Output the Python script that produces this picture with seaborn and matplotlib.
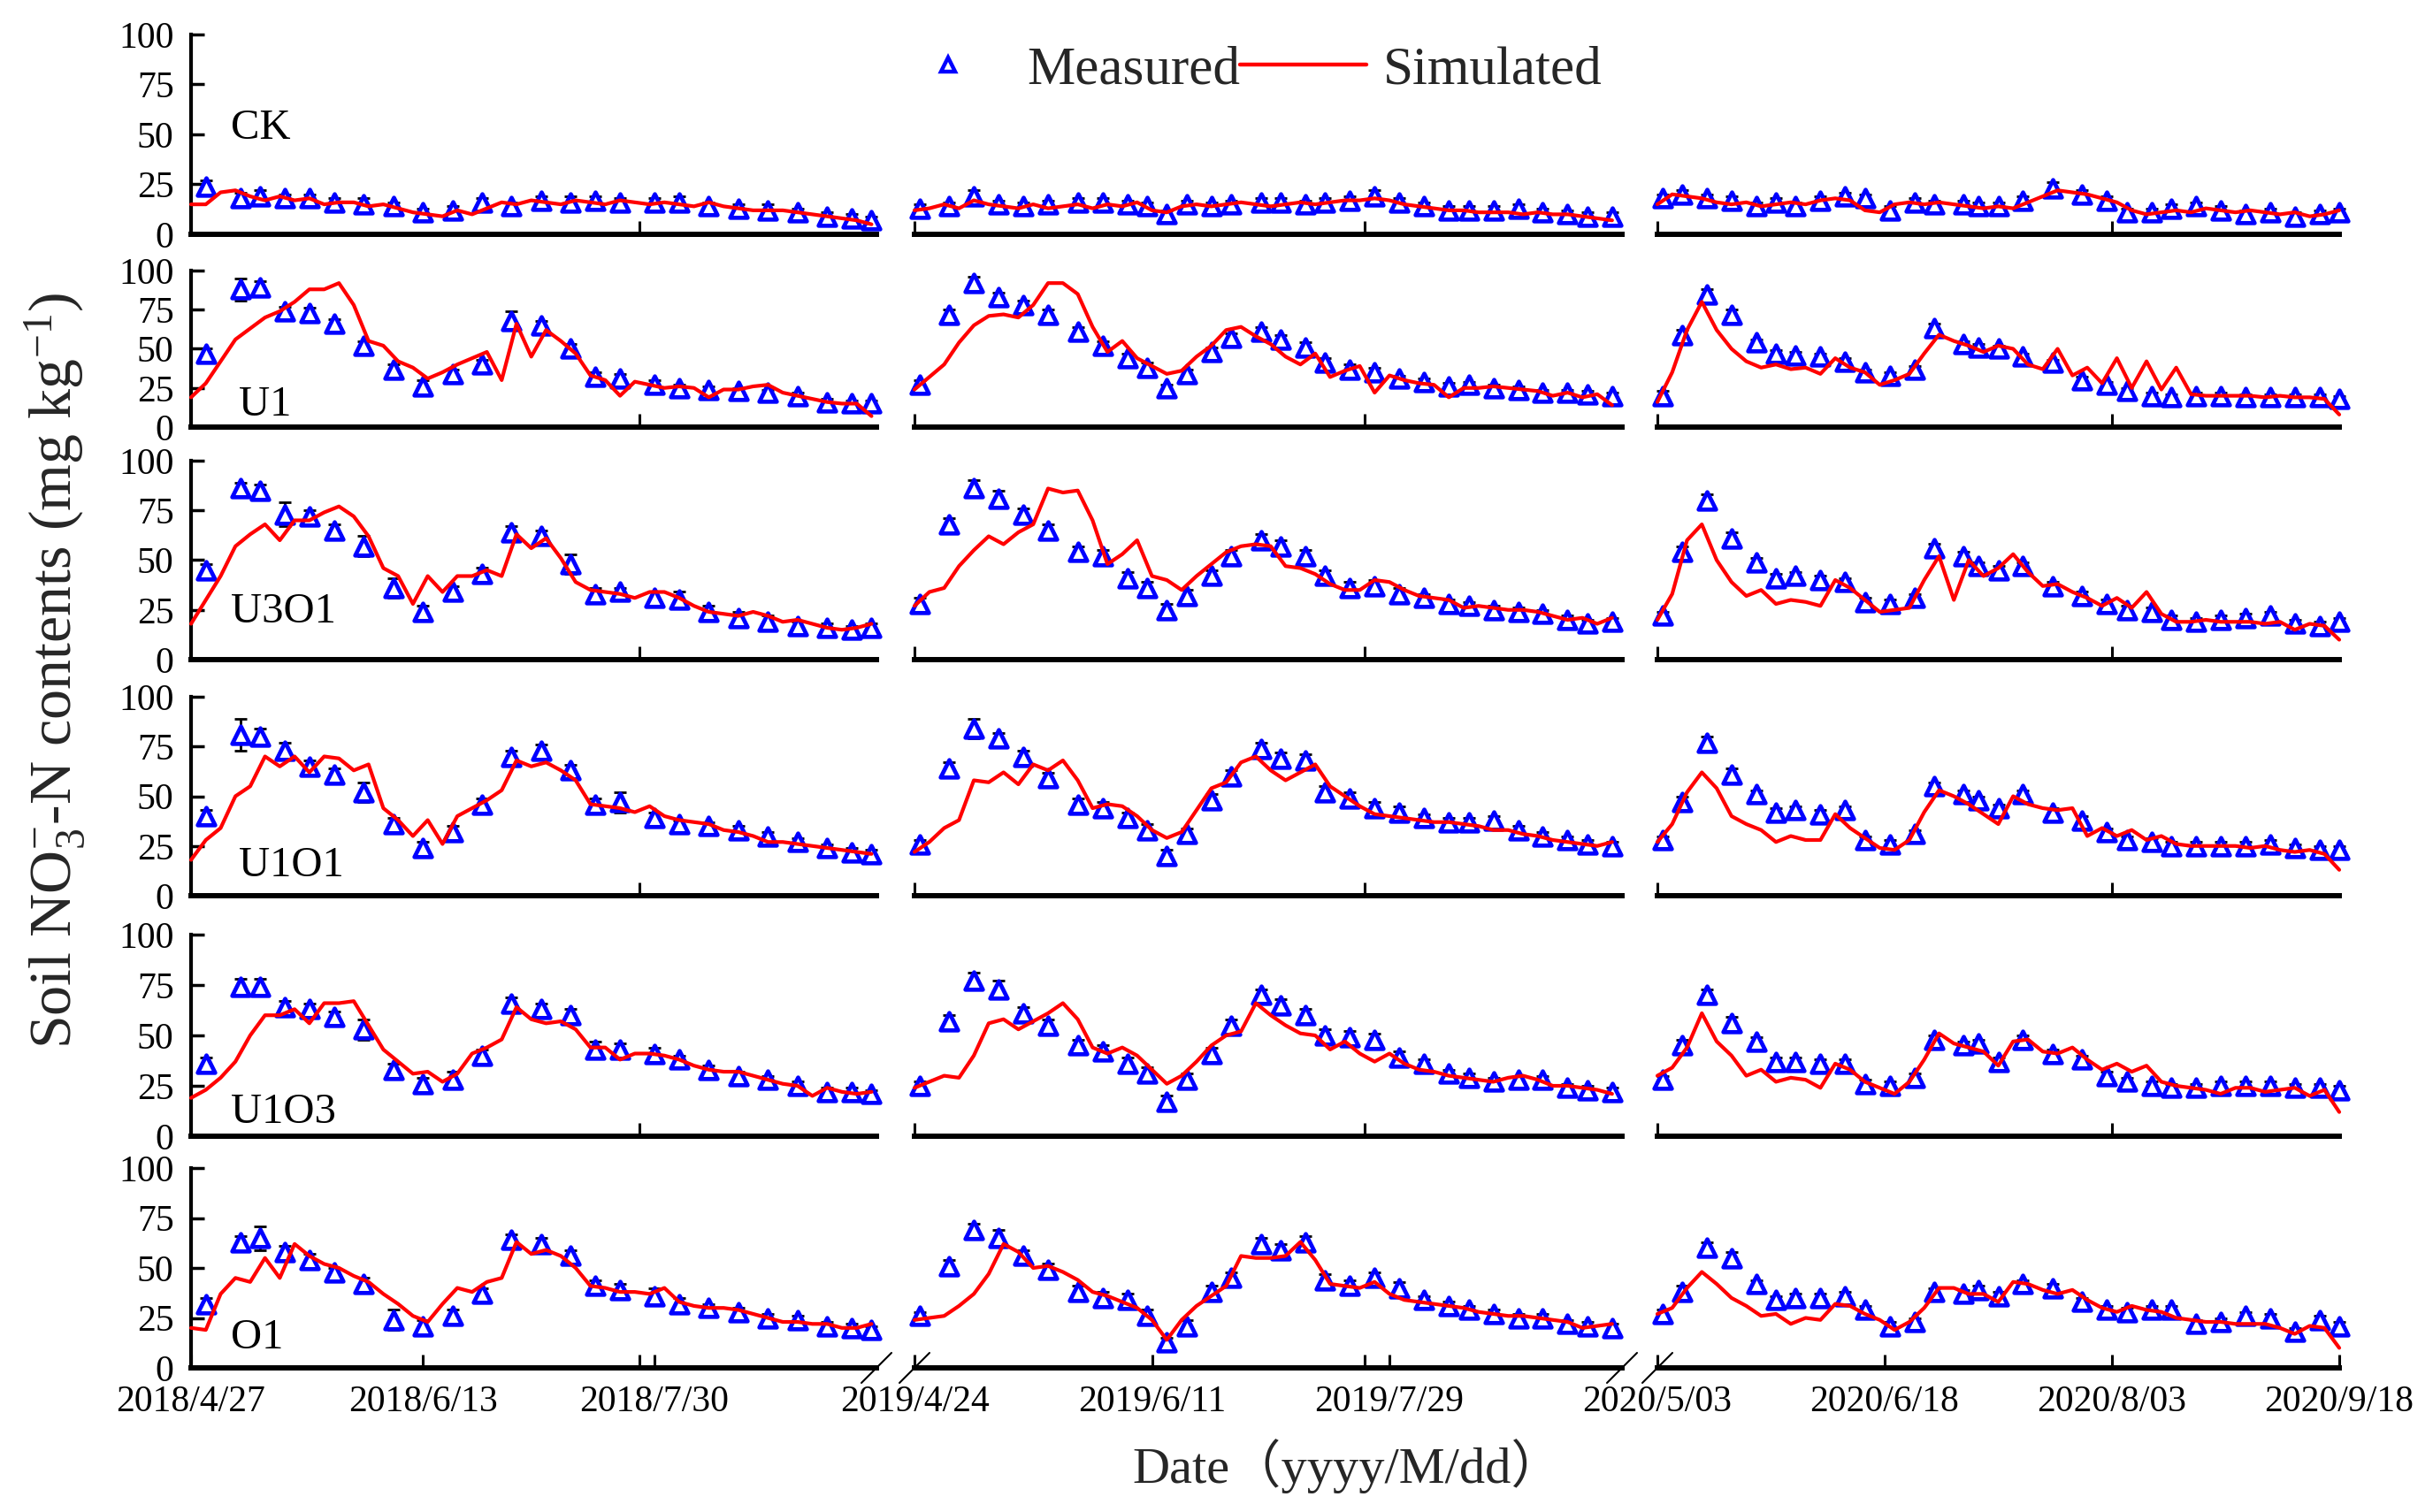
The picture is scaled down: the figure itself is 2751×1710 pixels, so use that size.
import numpy as np
import pandas as pd
import matplotlib
matplotlib.use("Agg")
import matplotlib.pyplot as plt
import matplotlib.dates as mdates
from matplotlib.lines import Line2D
import seaborn as sns

# ---------------- data ----------------
treatments = ["CK", "U1", "U3O1", "U1O1", "U1O3", "O1"]
season_starts = ["2018-04-27", "2019-04-24", "2020-05-03"]
season_ends = ["2018-09-13", "2019-09-14", "2020-09-18"]
sim_step_days = 3  # simulated series sampled every 3 days from season start

meas_days_2018 = [3, 10, 14, 19, 24, 29, 35, 41, 47, 53, 59, 65, 71, 77, 82, 87, 94, 99, 105, 111, 117, 123, 129, 134, 138]
meas_days_2019 = [1, 7, 12, 17, 22, 27, 33, 38, 43, 47, 51, 55, 60, 64, 70, 74, 79, 83, 88, 93, 98, 103, 108, 112, 117, 122, 127, 132, 136, 141]
meas_days_2020 = [1, 5, 10, 15, 20, 24, 28, 33, 38, 42, 47, 52, 56, 62, 65, 69, 74, 80, 86, 91, 95, 100, 104, 109, 114, 119, 124, 129, 134, 138]

# tick dates / labels (bottom row)
tick_dates_2018 = ["2018-04-27", "2018-06-13", "2018-07-30"]
tick_labels_2018 = ["2018/4/27", "2018/6/13", "2018/7/30"]
tick_dates_2019 = ["2019-04-24", "2019-06-11", "2019-07-29"]
tick_labels_2019 = ["2019/4/24", "2019/6/11", "2019/7/29"]
tick_dates_2020 = ["2020-05-03", "2020-06-18", "2020-08-03", "2020-09-18"]
tick_labels_2020 = ["2020/5/03", "2020/6/18", "2020/8/03", "2020/9/18"]
extra_ticks_bottom = [["2018-07-27"], ["2019-07-24"], []]
upper_ticks = [["2018-07-27"], ["2019-04-24", "2019-07-24"], ["2020-05-03", "2020-08-03"]]

# ----- CK -----
CK_2018_sim = [15, 15, 21, 22, 19, 17, 19, 17, 18, 15, 16, 16, 14, 15, 13, 11, 10, 9, 12, 10, 13, 16, 15, 17, 16, 15, 17, 16, 15, 17, 16, 15, 16, 15, 14, 16, 14, 13, 12, 12, 12, 11, 10, 9, 8, 7, 5]
CK_2019_sim = [12, 13, 15, 13, 17, 15, 14, 13, 15, 13, 14, 15, 13, 15, 14, 16, 12, 11, 14, 15, 14, 15, 16, 15, 14, 15, 16, 15, 16, 17, 17, 18, 17, 15, 14, 13, 12, 12, 11, 11, 11, 10, 11, 10, 10, 9, 8, 7]
CK_2020_sim = [15, 20, 19, 18, 16, 15, 16, 14, 15, 16, 15, 17, 18, 17, 12, 11, 15, 16, 15, 16, 15, 14, 13, 14, 13, 16, 19, 22, 21, 20, 18, 16, 12, 10, 11, 12, 11, 13, 12, 11, 12, 11, 10, 11, 9, 10, 12]
CK_2018_obs = [24, 18, 19, 18, 18, 16, 15, 14, 11, 12, 16, 14, 17, 16, 17, 16, 16, 16, 14, 13, 12, 11, 9, 8, 7]
CK_2019_obs = [13, 14, 19, 15, 14, 15, 16, 16, 15, 14, 10, 15, 14, 15, 16, 16, 15, 16, 17, 19, 16, 14, 12, 12, 12, 13, 11, 10, 9, 9]
CK_2020_obs = [18, 20, 18, 17, 14, 16, 14, 17, 19, 18, 12, 16, 15, 15, 14, 14, 17, 23, 20, 17, 11, 11, 13, 14, 12, 10, 11, 9, 10, 11]
CK_2018_err = [3, 3, 3, 2, 2, 2, 3, 2, 2, 2, 2, 2, 2, 3, 2, 2, 2, 3, 2, 2, 3, 2, 2, 2, 2]
CK_2019_err = [2, 2, 3, 2, 2, 2, 2, 2, 2, 2, 2, 2, 2, 2, 2, 2, 2, 2, 2, 3, 2, 2, 2, 2, 2, 2, 2, 2, 2, 2]
CK_2020_err = [2, 2, 2, 2, 2, 2, 2, 2, 2, 2, 2, 2, 2, 2, 2, 2, 2, 3, 2, 2, 2, 2, 2, 2, 2, 2, 2, 2, 2, 2]

# ----- U1 -----
U1_2018_sim = [19, 28, 42, 56, 63, 70, 74, 80, 88, 88, 92, 78, 55, 52, 42, 38, 31, 35, 40, 44, 48, 30, 66, 45, 62, 55, 47, 33, 30, 20, 29, 27, 25, 26, 25, 19, 24, 24, 26, 27, 22, 20, 18, 16, 15, 15, 7]
U1_2019_sim = [24, 32, 40, 54, 65, 71, 72, 70, 78, 92, 92, 85, 64, 48, 55, 44, 39, 34, 36, 45, 52, 62, 64, 58, 53, 45, 40, 47, 32, 36, 39, 22, 33, 30, 28, 27, 19, 25, 25, 26, 25, 24, 23, 20, 22, 19, 21, 14]
U1_2020_sim = [16, 35, 62, 80, 62, 50, 42, 38, 40, 37, 38, 34, 44, 38, 35, 27, 30, 34, 47, 59, 55, 52, 48, 52, 50, 40, 37, 50, 33, 38, 28, 44, 25, 42, 24, 38, 21, 20, 20, 20, 20, 19, 20, 19, 19, 18, 8]
U1_2018_obs = [47, 88, 89, 74, 73, 66, 52, 37, 26, 34, 40, 68, 65, 50, 32, 31, 27, 25, 24, 23, 22, 20, 16, 15, 15]
U1_2019_obs = [27, 72, 92, 83, 78, 72, 61, 52, 44, 38, 25, 34, 48, 57, 61, 56, 51, 41, 37, 35, 31, 29, 26, 27, 25, 24, 22, 22, 21, 20]
U1_2020_obs = [20, 59, 85, 72, 54, 47, 46, 45, 42, 35, 33, 37, 63, 53, 51, 50, 45, 41, 30, 27, 23, 20, 19, 20, 20, 19, 19, 19, 19, 18]
U1_2018_err = [3, 7, 4, 3, 3, 3, 3, 3, 4, 3, 3, 6, 3, 3, 3, 3, 3, 2, 2, 2, 2, 2, 2, 2, 2]
U1_2019_err = [3, 3, 4, 3, 3, 3, 3, 3, 3, 3, 2, 3, 3, 3, 3, 3, 3, 3, 3, 3, 2, 2, 2, 2, 2, 2, 2, 2, 2, 2]
U1_2020_err = [3, 3, 3, 3, 2, 2, 2, 2, 2, 2, 2, 2, 3, 2, 2, 2, 2, 2, 2, 2, 2, 2, 2, 2, 2, 2, 2, 2, 2, 2]

# ----- U3O1 -----
U3O1_2018_sim = [18, 30, 42, 57, 63, 68, 60, 70, 70, 74, 77, 72, 62, 46, 42, 28, 42, 34, 42, 42, 45, 42, 63, 56, 61, 51, 39, 35, 34, 33, 31, 34, 34, 31, 27, 24, 23, 22, 24, 22, 19, 20, 18, 16, 15, 16, 18]
U3O1_2019_sim = [27, 34, 36, 47, 55, 62, 58, 64, 68, 86, 84, 85, 70, 48, 53, 60, 42, 40, 35, 42, 48, 54, 57, 58, 57, 47, 46, 43, 38, 35, 35, 40, 39, 35, 32, 31, 30, 26, 27, 26, 25, 25, 24, 22, 20, 21, 18, 21]
U3O1_2020_sim = [20, 33, 60, 68, 50, 39, 32, 35, 28, 30, 29, 27, 40, 36, 30, 24, 25, 26, 40, 52, 30, 50, 42, 46, 53, 44, 37, 38, 34, 31, 27, 31, 26, 34, 23, 19, 19, 20, 19, 19, 19, 18, 19, 15, 18, 17, 10]
U3O1_2018_obs = [45, 86, 85, 73, 72, 65, 57, 36, 24, 34, 43, 64, 62, 48, 33, 34, 31, 30, 24, 21, 19, 17, 16, 15, 16]
U3O1_2019_obs = [28, 68, 86, 81, 73, 65, 54, 52, 41, 36, 25, 32, 42, 52, 60, 57, 52, 42, 36, 37, 33, 31, 28, 27, 25, 24, 23, 20, 18, 19]
U3O1_2020_obs = [22, 54, 80, 61, 49, 41, 42, 40, 39, 29, 28, 31, 56, 52, 47, 45, 47, 37, 32, 28, 25, 24, 20, 19, 20, 21, 22, 18, 17, 19]
U3O1_2018_err = [3, 3, 3, 6, 3, 3, 5, 5, 3, 3, 3, 3, 3, 5, 3, 2, 3, 4, 3, 3, 3, 2, 2, 2, 2]
U3O1_2019_err = [3, 3, 4, 4, 3, 3, 3, 3, 3, 3, 3, 3, 3, 3, 3, 3, 3, 3, 3, 3, 3, 2, 2, 2, 2, 2, 2, 2, 2, 2]
U3O1_2020_err = [2, 3, 3, 3, 2, 2, 2, 2, 2, 2, 2, 2, 2, 2, 2, 2, 2, 2, 2, 2, 2, 2, 2, 2, 2, 2, 2, 2, 2, 2]

# ----- U1O1 -----
U1O1_2018_sim = [18, 28, 34, 50, 55, 70, 65, 70, 62, 70, 69, 63, 66, 44, 38, 30, 38, 26, 40, 44, 48, 53, 68, 65, 67, 63, 58, 46, 45, 44, 42, 45, 40, 38, 37, 36, 33, 32, 30, 27, 27, 26, 25, 24, 23, 22, 21]
U1O1_2019_sim = [22, 27, 34, 38, 58, 57, 62, 56, 66, 63, 68, 58, 44, 46, 45, 40, 33, 29, 32, 43, 54, 57, 67, 70, 63, 58, 62, 66, 55, 50, 45, 41, 40, 39, 38, 37, 37, 36, 35, 33, 33, 31, 30, 28, 27, 26, 25, 27]
U1O1_2020_sim = [27, 36, 52, 62, 54, 40, 36, 33, 27, 30, 28, 28, 41, 34, 29, 24, 23, 28, 42, 53, 50, 46, 41, 36, 50, 46, 44, 43, 44, 30, 34, 30, 33, 28, 30, 26, 25, 25, 25, 25, 24, 25, 23, 22, 23, 21, 13]
U1O1_2018_obs = [40, 81, 80, 73, 65, 61, 52, 36, 24, 32, 46, 70, 73, 63, 46, 47, 39, 36, 35, 33, 30, 27, 24, 22, 21]
U1O1_2019_obs = [26, 64, 84, 79, 70, 59, 46, 44, 39, 33, 20, 31, 48, 60, 74, 69, 68, 52, 49, 44, 42, 39, 37, 37, 38, 33, 30, 28, 26, 25]
U1O1_2020_obs = [28, 47, 77, 61, 51, 42, 43, 41, 43, 28, 26, 31, 55, 51, 48, 44, 51, 42, 38, 32, 28, 27, 25, 25, 25, 25, 26, 24, 23, 23]
U1O1_2018_err = [3, 8, 4, 4, 3, 3, 5, 3, 3, 3, 3, 3, 3, 3, 3, 5, 3, 2, 2, 2, 2, 2, 2, 2, 2]
U1O1_2019_err = [2, 3, 5, 3, 3, 3, 3, 3, 3, 3, 3, 3, 3, 3, 3, 3, 3, 3, 3, 3, 3, 2, 2, 2, 2, 2, 2, 2, 2, 2]
U1O1_2020_err = [2, 3, 3, 3, 2, 2, 2, 2, 2, 2, 2, 2, 2, 2, 2, 2, 2, 2, 2, 2, 2, 2, 2, 2, 2, 2, 2, 2, 2, 2]

# ----- U1O3 -----
U1O3_2018_sim = [19, 23, 29, 37, 50, 60, 60, 63, 56, 66, 66, 67, 55, 43, 37, 31, 32, 27, 31, 41, 44, 48, 64, 58, 56, 57, 53, 44, 44, 38, 41, 41, 40, 38, 35, 33, 32, 32, 30, 28, 26, 25, 20, 24, 22, 21, 22]
U1O3_2019_sim = [24, 27, 30, 29, 40, 56, 58, 53, 57, 61, 66, 58, 44, 41, 44, 40, 33, 26, 30, 37, 45, 50, 52, 66, 60, 55, 51, 50, 43, 47, 41, 37, 41, 36, 33, 32, 30, 29, 28, 27, 29, 30, 28, 25, 25, 24, 23, 21]
U1O3_2020_sim = [30, 34, 44, 61, 47, 40, 30, 33, 27, 29, 28, 24, 36, 33, 27, 24, 21, 27, 38, 51, 46, 44, 42, 35, 47, 48, 42, 41, 44, 38, 33, 36, 32, 35, 27, 25, 24, 23, 21, 24, 24, 22, 23, 24, 20, 23, 12]
U1O3_2018_obs = [36, 74, 74, 64, 63, 59, 53, 33, 26, 28, 40, 66, 63, 60, 43, 43, 41, 38, 33, 30, 28, 25, 22, 22, 21]
U1O3_2019_obs = [25, 57, 77, 73, 61, 55, 45, 42, 36, 31, 17, 28, 41, 55, 70, 65, 60, 50, 49, 48, 39, 36, 31, 29, 27, 28, 28, 24, 23, 22]
U1O3_2020_obs = [28, 45, 70, 56, 47, 37, 37, 36, 36, 26, 25, 29, 48, 45, 46, 37, 48, 41, 38, 30, 27, 25, 24, 24, 25, 25, 25, 24, 24, 23]
U1O3_2018_err = [3, 4, 4, 3, 3, 3, 5, 3, 3, 4, 3, 3, 3, 3, 4, 3, 3, 2, 2, 2, 2, 2, 2, 2, 2]
U1O3_2019_err = [2, 3, 4, 4, 3, 3, 3, 3, 3, 3, 3, 3, 3, 3, 3, 3, 3, 3, 3, 3, 3, 2, 2, 2, 2, 2, 2, 2, 2, 2]
U1O3_2020_err = [2, 3, 3, 3, 2, 2, 2, 2, 2, 2, 2, 2, 2, 2, 2, 2, 2, 2, 2, 2, 2, 2, 2, 2, 2, 2, 2, 2, 2, 2]

# ----- O1 -----
O1_2018_sim = [20, 19, 37, 45, 43, 55, 45, 62, 56, 52, 50, 46, 43, 37, 32, 26, 23, 32, 40, 38, 43, 45, 63, 57, 59, 56, 50, 41, 40, 38, 38, 37, 40, 33, 31, 30, 30, 29, 27, 25, 23, 23, 22, 22, 20, 20, 22]
O1_2019_sim = [24, 25, 26, 31, 37, 47, 62, 58, 50, 51, 48, 44, 38, 36, 33, 30, 24, 14, 24, 31, 36, 41, 56, 55, 55, 56, 63, 54, 42, 41, 40, 43, 37, 34, 33, 32, 31, 30, 28, 27, 26, 26, 25, 24, 23, 20, 21, 22]
O1_2020_sim = [27, 30, 40, 48, 42, 35, 31, 26, 27, 22, 25, 24, 32, 31, 27, 24, 19, 23, 30, 40, 40, 37, 37, 33, 43, 42, 39, 37, 39, 34, 30, 28, 31, 29, 28, 25, 24, 23, 23, 22, 22, 22, 20, 17, 21, 20, 10]
O1_2018_obs = [32, 63, 65, 58, 54, 48, 42, 24, 21, 26, 37, 64, 62, 56, 41, 39, 36, 32, 30, 28, 25, 24, 21, 20, 19]
O1_2019_obs = [26, 51, 69, 65, 56, 49, 38, 35, 34, 26, 13, 21, 38, 45, 62, 59, 63, 44, 41, 45, 40, 34, 31, 29, 27, 25, 25, 22, 21, 20]
O1_2020_obs = [27, 38, 60, 55, 42, 34, 35, 35, 36, 29, 21, 23, 38, 37, 39, 36, 42, 40, 33, 29, 28, 29, 29, 22, 23, 26, 25, 18, 24, 21]
O1_2018_err = [3, 3, 6, 3, 3, 2, 3, 5, 3, 3, 3, 3, 3, 3, 3, 3, 4, 3, 2, 2, 2, 2, 2, 2, 2]
O1_2019_err = [2, 3, 3, 4, 3, 3, 3, 3, 3, 3, 2, 3, 3, 3, 3, 3, 3, 3, 3, 3, 3, 2, 2, 2, 2, 2, 2, 2, 2, 2]
O1_2020_err = [2, 3, 3, 3, 2, 2, 2, 2, 2, 2, 2, 2, 2, 2, 2, 2, 2, 2, 2, 2, 2, 2, 2, 2, 2, 2, 2, 2, 2, 2]

# ---------------- tables built from the arrays ----------------
SIM = {
    "CK": [CK_2018_sim, CK_2019_sim, CK_2020_sim],
    "U1": [U1_2018_sim, U1_2019_sim, U1_2020_sim],
    "U3O1": [U3O1_2018_sim, U3O1_2019_sim, U3O1_2020_sim],
    "U1O1": [U1O1_2018_sim, U1O1_2019_sim, U1O1_2020_sim],
    "U1O3": [U1O3_2018_sim, U1O3_2019_sim, U1O3_2020_sim],
    "O1": [O1_2018_sim, O1_2019_sim, O1_2020_sim],
}
OBS = {
    "CK": [CK_2018_obs, CK_2019_obs, CK_2020_obs],
    "U1": [U1_2018_obs, U1_2019_obs, U1_2020_obs],
    "U3O1": [U3O1_2018_obs, U3O1_2019_obs, U3O1_2020_obs],
    "U1O1": [U1O1_2018_obs, U1O1_2019_obs, U1O1_2020_obs],
    "U1O3": [U1O3_2018_obs, U1O3_2019_obs, U1O3_2020_obs],
    "O1": [O1_2018_obs, O1_2019_obs, O1_2020_obs],
}
ERR = {
    "CK": [CK_2018_err, CK_2019_err, CK_2020_err],
    "U1": [U1_2018_err, U1_2019_err, U1_2020_err],
    "U3O1": [U3O1_2018_err, U3O1_2019_err, U3O1_2020_err],
    "U1O1": [U1O1_2018_err, U1O1_2019_err, U1O1_2020_err],
    "U1O3": [U1O3_2018_err, U1O3_2019_err, U1O3_2020_err],
    "O1": [O1_2018_err, O1_2019_err, O1_2020_err],
}
MEAS_DAYS = [meas_days_2018, meas_days_2019, meas_days_2020]
TICK_DATES = [tick_dates_2018, tick_dates_2019, tick_dates_2020]
TICK_LABELS = [tick_labels_2018, tick_labels_2019, tick_labels_2020]

# ---------------- style ----------------
sns.set_style("white")
plt.rcParams["font.family"] = ["Liberation Serif", "Noto Sans CJK SC"]
plt.rcParams["mathtext.fontset"] = "custom"
plt.rcParams["mathtext.rm"] = "Liberation Serif"
plt.rcParams["mathtext.it"] = "Liberation Serif:italic"
plt.rcParams["mathtext.default"] = "regular"

BLUE = "#0000FF"
RED = "#FF0000"

W, H = 2751, 1710
fig = plt.figure(figsize=(W / 100, H / 100), dpi=100)

col_px = [(216, 991), (1034, 1834), (1874, 2645)]
row_px = [(39, 265), (306, 483), (521, 746), (788, 1013), (1057, 1285), (1321, 1547)]
label_x = [0.058, 0.07, 0.058, 0.07, 0.058, 0.058]
label_y = [53, 14, 24, 15, 12, 15]


def to_num(dates):
    return mdates.date2num(pd.to_datetime(dates))


for r, t in enumerate(treatments):
    for c in range(3):
        x0, x1 = col_px[c]
        y100, y0 = row_px[r]
        ax = fig.add_axes([x0 / W, 1 - y0 / H, (x1 - x0) / W, (y0 - y100) / H])
        start = pd.Timestamp(season_starts[c])
        sim = SIM[t][c]
        sim_dates = start + pd.to_timedelta(np.arange(len(sim)) * sim_step_days, unit="D")
        mdts = start + pd.to_timedelta(MEAS_DAYS[c], unit="D")
        obs = OBS[t][c]
        err = ERR[t][c]

        ax.errorbar(mdts, obs, yerr=err, fmt="none", ecolor="black",
                    elinewidth=2.0, capsize=5, capthick=2.0, zorder=2, clip_on=False)
        sns.scatterplot(x=mdts, y=obs, ax=ax, marker="^", s=200, color="white",
                        edgecolor=BLUE, linewidth=3.4, zorder=3, clip_on=False, legend=False)
        sns.lineplot(x=sim_dates, y=sim, ax=ax, color=RED, linewidth=3.0,
                     zorder=4, clip_on=False, legend=False)

        ax.set_xlim(to_num([season_starts[c], season_ends[c]]))
        ax.set_ylim(0, 100)
        ax.set_xlabel("")
        ax.set_ylabel("")
        ax.grid(False)
        ax.patch.set_alpha(0)
        for s in ["top", "right"]:
            ax.spines[s].set_visible(False)
        ax.spines["bottom"].set_linewidth(4.3)
        ax.spines["bottom"].set_color("black")

        if c == 0:
            ax.spines["left"].set_linewidth(3)
            ax.spines["left"].set_color("black")
            ax.set_yticks([0, 25, 50, 75, 100])
            ax.set_yticklabels(["0", "25", "50", "75", "100"])
            ax.tick_params(axis="y", direction="in", length=11, width=2.5,
                           labelsize=30, pad=14, colors="black", left=True)
            ax.text(label_x[r], label_y[r], t, transform=ax.get_yaxis_transform(),
                    fontsize=35, ha="left", va="center", color="black")
        else:
            ax.spines["left"].set_visible(False)
            ax.set_yticks([])

        if r == len(treatments) - 1:
            ax.set_xticks(to_num(TICK_DATES[c]))
            ax.set_xticklabels(TICK_LABELS[c])
            if extra_ticks_bottom[c]:
                ax.set_xticks(to_num(extra_ticks_bottom[c]), minor=True)
            ax.tick_params(axis="x", which="both", direction="in", length=11,
                           width=2.2, labelsize=30, pad=14, colors="black", bottom=True)
        else:
            ax.set_xticks(to_num(upper_ticks[c]))
            ax.set_xticklabels([])
            ax.tick_params(axis="x", direction="in", length=11, width=2.2,
                           colors="black", bottom=True)

# axis-break marks on the bottom row
for cx in [991, 1034, 1834, 1874]:
    cy = 1547
    fig.add_artist(Line2D([(cx - 17) / W, (cx + 17) / W], [1 - (cy + 17) / H, 1 - (cy - 17) / H],
                          transform=fig.transFigure, color="black", lw=1.5))

# legend
handles = [Line2D([], [], marker="^", ls="none", color=BLUE, mfc="white", ms=12, mew=3.2),
           Line2D([], [], color=RED, lw=3.2)]
fig.legend(handles, ["Measured", "Simulated"], ncol=2, loc="center left",
           bbox_to_anchor=(1000 / W, 1 - 80 / H), frameon=False, fontsize=44,
           handlelength=2.34, handletextpad=0.3, columnspacing=0.0,
           borderpad=0, borderaxespad=0)

# axis titles
fig.text(62 / W, 1 - 758 / H, r"Soil NO$_3^{-}$-N contents (mg kg$^{-1}$)",
         rotation=90, ha="center", va="center", fontsize=49)
fig.text(1524 / W, 1 - 1658 / H, "Date（yyyy/M/dd）", ha="center", va="center",
         fontsize=42)

fig.savefig("out.png", dpi=100)
